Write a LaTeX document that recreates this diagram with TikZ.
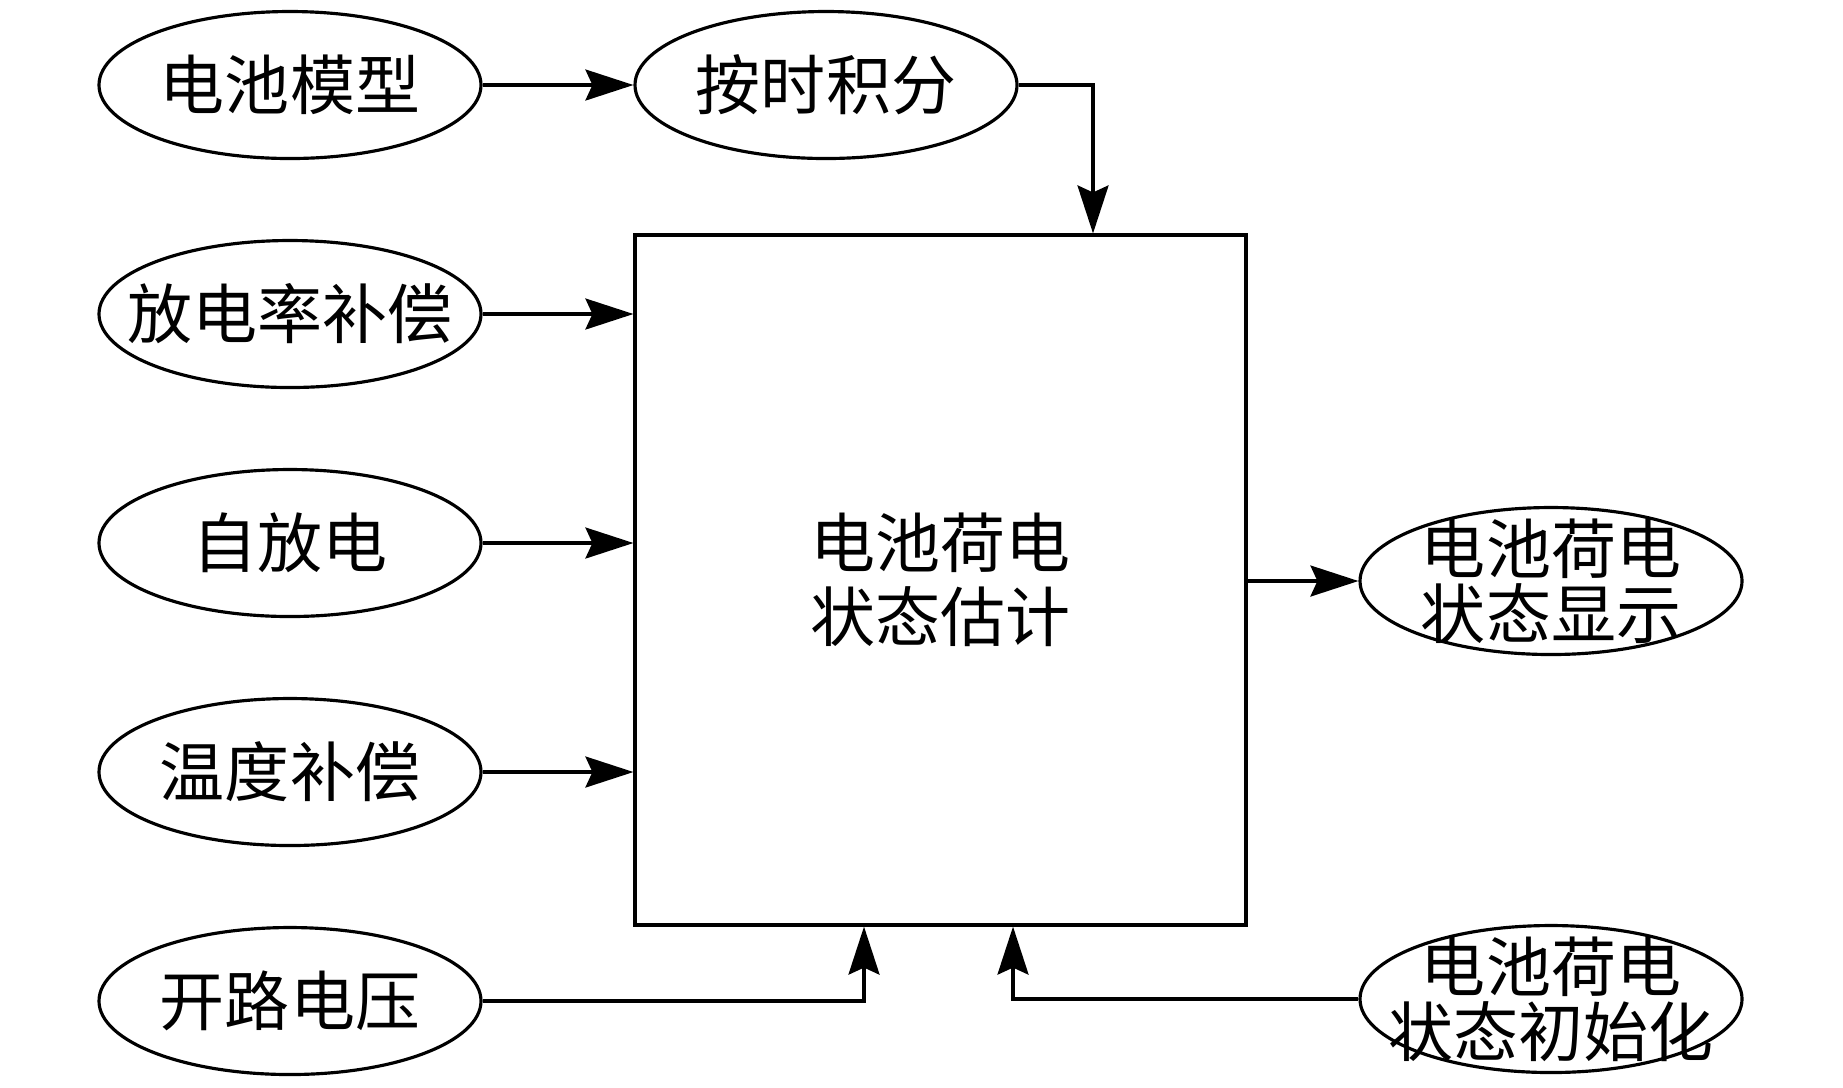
\documentclass[tikz,border=0pt]{standalone}
\usepackage{fontspec}
\newfontfamily\cjk{Noto Sans CJK SC}
\usetikzlibrary{shapes.geometric,arrows.meta,positioning}

\begin{document}
\begin{tikzpicture}[auto,node distance=2.29cm,line width=0.9pt,>={Stealth[length=4.8mm,width=3.1mm,inset=0.7mm]}]

	\tikzstyle{oval}=[shape=ellipse,draw,minimum width=3.82cm,minimum height=1.47cm,inner sep=0pt]
	\tikzstyle{txt}=[font=\cjk\fontsize{18.5}{18.5}\selectfont,align=center,inner sep=0pt]
	\tikzstyle{block}=[shape=rectangle,draw,minimum width=6.11cm,minimum height=6.90cm,font=\cjk\fontsize{18.5}{21}\selectfont,align=center]

	\useasboundingbox (0,0) rectangle (18.43,-10.87);

	\node[oval,label={[txt]center:电池模型}] (model) at (2.90,-0.85) {};
	\node[oval,label={[txt]center:按时积分}] (integ) [right of=model,node distance=5.36cm] {};
	\node[oval,label={[txt]center:放电率补偿}] (rate) [below of=model] {};
	\node[oval,label={[txt]center:自放电}] (self) [below of=rate] {};
	\node[oval,label={[txt]center:温度补偿}] (temp) [below of=self] {};
	\node[oval,label={[txt]center:开路电压}] (ocv) [below of=temp] {};

	\node[block] (soc) at (9.405,-5.80) {电池荷电\\状态估计};

	\node[oval,label={[txt]center:电池荷电\\状态显示}] (disp) at (15.51,-5.81) {};
	\node[oval,label={[txt]center:电池荷电\\状态初始化}] (init) at (15.51,-9.99) {};

	\draw[->] (model) -- (integ);
	\draw[->] (integ.east) -| ([xshift=1.525cm]soc.north);
	\foreach \n in {rate,self,temp}
		\draw[->] (\n.east) -- (\n.east -| soc.west);
	\draw[->] (soc.east |- disp) -- (disp);
	\draw[->] (ocv.east) -| ([xshift=-0.765cm]soc.south);
	\draw[->] (init.west) -| ([xshift=0.725cm]soc.south);

\end{tikzpicture}
\end{document}
